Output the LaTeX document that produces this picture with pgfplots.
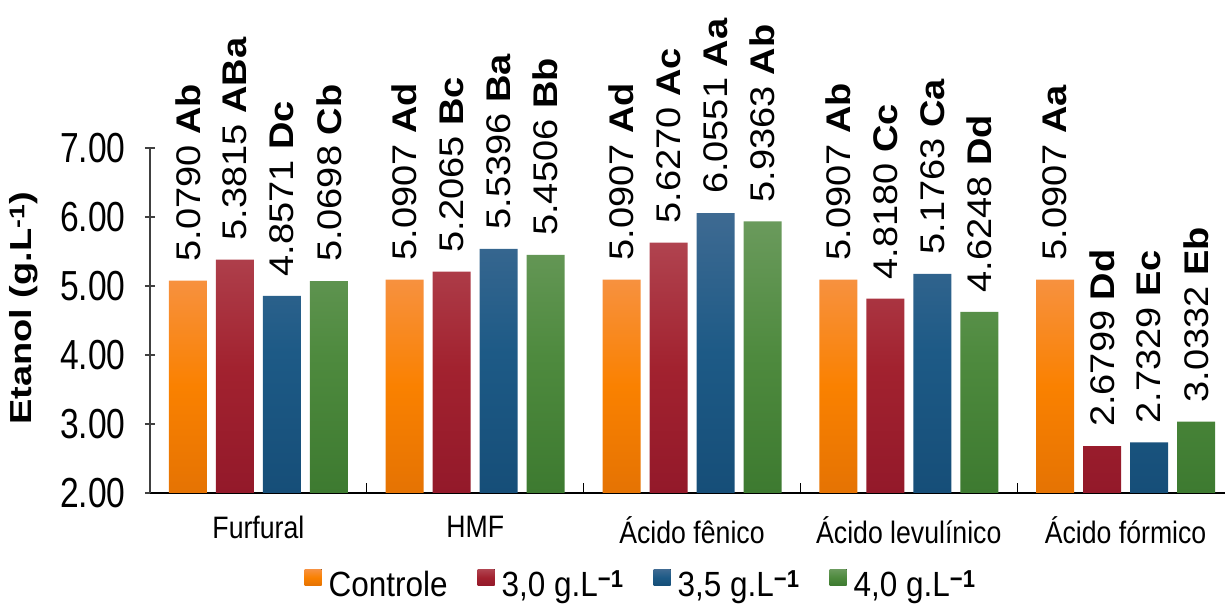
\documentclass[border=0pt]{standalone}
\usepackage{fontspec}
\setmainfont{Liberation Sans}
\newfontfamily\narrowfont[FakeStretch=0.8]{Liberation Sans}
\newfontfamily\catfont[FakeStretch=0.86]{Liberation Sans}
\newfontfamily\legfont[FakeStretch=0.9]{Liberation Sans}
\usepackage{pgfplots}
\pgfplotsset{compat=1.18}
\definecolor{orT}{HTML}{F7913F}\definecolor{orM}{HTML}{FA8100}\definecolor{orB}{HTML}{E57303}
\definecolor{rdT}{HTML}{B0434F}\definecolor{rdM}{HTML}{A2222F}\definecolor{rdB}{HTML}{93192A}
\definecolor{blT}{HTML}{3E6A92}\definecolor{blM}{HTML}{1D5A86}\definecolor{blB}{HTML}{164E78}
\definecolor{grT}{HTML}{6A9A5C}\definecolor{grM}{HTML}{4E8A3E}\definecolor{grB}{HTML}{3D7A30}
\begin{document}
\begin{tikzpicture}
\begin{axis}[
  scale only axis, width=1084pt, height=345pt,
  xmin=-0.5, xmax=4.5, ymin=2, ymax=7,
  axis x line*=bottom, axis y line*=left,
  x axis line style={-, black, line width=1.6pt},
  y axis line style={-, black!75, line width=1.2pt},
  /pgf/number format/assume math mode=true,
  ybar=9pt, bar width=38pt,
  xtick={-0.5,0.5,1.5,2.5,3.5,4.5},
  x tick label as interval,
  xticklabels={Furfural, HMF, Ácido fênico, Ácido levulínico, Ácido fórmico},
  x tick style={black, line width=1.2pt},
  xtick align=inside, xtick pos=bottom,
  major tick length=10pt,
  xticklabel style={font=\catfont\fontsize{31}{34}\selectfont, anchor=north, yshift=-20pt},
  ytick={2,3,4,5,6,7},
  y tick style={black!75, line width=1.2pt},
  ytick align=center, ytick pos=left,
  y tick label style={xshift=-16pt, font=\narrowfont\fontsize{42}{46}\selectfont, /pgf/number format/.cd, fixed, fixed zerofill, precision=2},
  every axis y label/.style={at={(axis description cs:-0.1163,0.535)}, rotate=90, yscale=0.8, anchor=center, font=\bfseries\fontsize{38}{40}\selectfont},
  ylabel={Etanol (g.L\textsuperscript{-1})},
  point meta=explicit symbolic,
  visualization depends on={y \as \rawy},
  nodes near coords={\pgfmathprintnumber[fixed,fixed zerofill,precision=4]{\rawy}~\textbf{\pgfplotspointmeta}},
  every node near coord/.append style={rotate=90, anchor=west, yscale=0.9, inner xsep=19pt, inner ysep=0pt, font=\fontsize{38}{40}\selectfont, text=black},
  clip=false,
  legend columns=4,
  legend style={at={(axis description cs:0.453,-0.265)}, anchor=center, draw=none, fill=none,
    font=\legfont\fontsize{35}{38}\selectfont,
    /tikz/every odd column/.append style={column sep=5pt},
    /tikz/every even column/.append style={column sep=28pt}},
  legend image code/.code={\fill[#1] (0pt,-1pt) rectangle (17pt,15pt);},
]
\addplot[draw=none, top color=orT, bottom color=orB, middle color=orM] coordinates {(0,5.0790)[Ab] (1,5.0907)[Ad] (2,5.0907)[Ad] (3,5.0907)[Ab] (4,5.0907)[Aa]};
\addplot[draw=none, top color=rdT, bottom color=rdB, middle color=rdM] coordinates {(0,5.3815)[ABa] (1,5.2065)[Bc] (2,5.6270)[Ac] (3,4.8180)[Cc] (4,2.6799)[Dd]};
\addplot[draw=none, top color=blT, bottom color=blB, middle color=blM] coordinates {(0,4.8571)[Dc] (1,5.5396)[Ba] (2,6.0551)[Aa] (3,5.1763)[Ca] (4,2.7329)[Ec]};
\addplot[draw=none, top color=grT, bottom color=grB, middle color=grM] coordinates {(0,5.0698)[Cb] (1,5.4506)[Bb] (2,5.9363)[Ab] (3,4.6248)[Dd] (4,3.0332)[Eb]};
\legend{Controle, {3,0 g.L\textsuperscript{\textbf{−1}}}, {3,5 g.L\textsuperscript{\textbf{−1}}}, {4,0 g.L\textsuperscript{\textbf{−1}}}}
\end{axis}
\pgfresetboundingbox
\path ([shift={(-150pt,-112pt)}]current axis.south west) rectangle ([shift={(-9pt,148pt)}]current axis.north east);
\end{tikzpicture}
\end{document}
